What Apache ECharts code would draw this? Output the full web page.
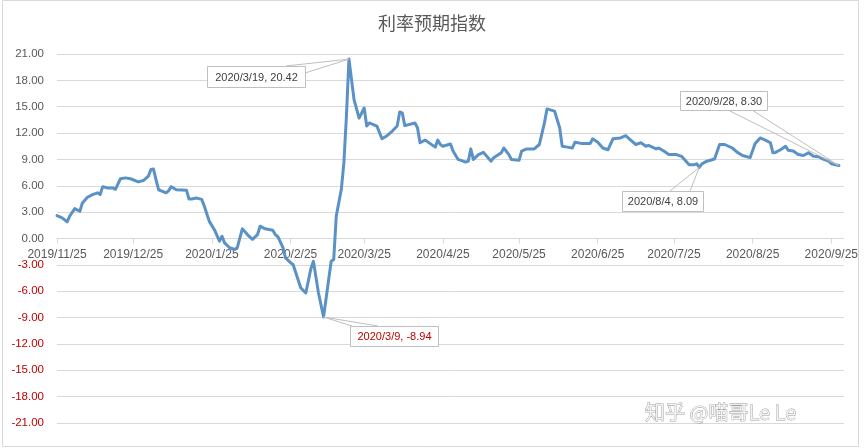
<!DOCTYPE html>
<html><head><meta charset="utf-8">
<script src="https://cdn.jsdelivr.net/npm/echarts@6/dist/echarts.min.js"></script>
<style>html,body{margin:0;padding:0;background:#fff}#c{width:864px;height:448px}</style>
</head><body><div id="c"></div>
<script>
// ---- data ----
const titleText = '利率预期指数';
const axisStart = [2019, 11, 25];
const axisEnd = [2020, 9, 30];
const labelDayOfMonth = 25;
const yMin = -21, yMax = 21, yStep = 3;

const dates = [
'2019/11/25','2019/11/27','2019/11/29','2019/11/30','2019/12/2','2019/12/4','2019/12/5','2019/12/7','2019/12/9','2019/12/11',
'2019/12/12','2019/12/13','2019/12/15','2019/12/17','2019/12/18','2019/12/20','2019/12/22','2019/12/24','2019/12/27','2019/12/29',
'2019/12/31','2020/1/1','2020/1/2','2020/1/3','2020/1/4','2020/1/7','2020/1/8','2020/1/9','2020/1/11','2020/1/15',
'2020/1/16','2020/1/17','2020/1/19','2020/1/21','2020/1/22','2020/1/24','2020/1/26','2020/1/28','2020/1/29','2020/1/30',
'2020/2/1','2020/2/3','2020/2/4','2020/2/6','2020/2/8','2020/2/10','2020/2/12','2020/2/13','2020/2/15','2020/2/18',
'2020/2/19','2020/2/20','2020/2/22','2020/2/23','2020/2/25','2020/2/26','2020/2/29','2020/3/2','2020/3/4','2020/3/5',
'2020/3/7','2020/3/9','2020/3/11','2020/3/12','2020/3/13','2020/3/14','2020/3/16','2020/3/17','2020/3/18','2020/3/19',
'2020/3/21','2020/3/23','2020/3/25','2020/3/26','2020/3/27','2020/3/30','2020/4/1','2020/4/3','2020/4/5','2020/4/7',
'2020/4/8','2020/4/9','2020/4/10','2020/4/14','2020/4/15','2020/4/16','2020/4/18','2020/4/20','2020/4/22','2020/4/23',
'2020/4/24','2020/4/25','2020/4/28','2020/4/29','2020/5/1','2020/5/4','2020/5/5','2020/5/6','2020/5/7','2020/5/9',
'2020/5/11','2020/5/14','2020/5/15','2020/5/18','2020/5/19','2020/5/21','2020/5/22','2020/5/25','2020/5/26','2020/5/28',
'2020/5/31','2020/6/2','2020/6/4','2020/6/5','2020/6/8','2020/6/9','2020/6/10','2020/6/11','2020/6/13','2020/6/15',
'2020/6/16','2020/6/19','2020/6/22','2020/6/23','2020/6/25','2020/6/27','2020/6/29','2020/7/1','2020/7/4','2020/7/6',
'2020/7/8','2020/7/10','2020/7/12','2020/7/14','2020/7/15','2020/7/18','2020/7/19','2020/7/21','2020/7/23','2020/7/26',
'2020/7/28','2020/7/31','2020/8/2','2020/8/3','2020/8/4','2020/8/5','2020/8/7','2020/8/10','2020/8/12','2020/8/14',
'2020/8/17','2020/8/19','2020/8/21','2020/8/24','2020/8/26','2020/8/28','2020/8/30','2020/9/1','2020/9/2','2020/9/3',
'2020/9/5','2020/9/7','2020/9/8','2020/9/10','2020/9/12','2020/9/14','2020/9/16','2020/9/18','2020/9/20','2020/9/22',
'2020/9/24','2020/9/25','2020/9/28'
];
const values = [
2.6,2.35,1.9,2.55,3.4,3.1,4.05,4.7,5.0,5.2,
5.0,5.9,5.75,5.75,5.6,6.8,6.9,6.8,6.45,6.6,
7.1,7.85,7.9,6.7,5.55,5.2,5.45,5.9,5.55,5.5,
4.5,4.5,4.6,4.45,3.7,1.95,1.0,-0.3,0.25,-0.5,
-1.05,-1.25,-1.05,1.1,0.45,-0.1,0.45,1.4,1.1,0.95,
0.45,0.2,-1.05,-2.2,-2.75,-2.95,-5.6,-6.2,-3.45,-2.6,
-6.2,-8.94,-4.7,-2.6,-2.4,2.55,5.6,8.6,13.9,20.42,
15.8,13.7,14.85,12.8,13.15,12.8,11.35,11.7,12.2,12.8,
14.4,14.3,12.85,13.15,12.6,10.9,11.2,10.8,10.4,11.2,
10.7,10.5,10.75,9.95,9.0,8.7,8.8,10.2,9.0,9.55,
9.8,8.8,9.2,9.75,10.3,9.55,9.0,8.9,9.95,10.2,
10.2,10.7,13.15,14.75,14.5,13.55,12.6,10.5,10.4,10.3,
10.95,10.8,10.8,11.35,10.95,10.3,10.1,11.35,11.45,11.7,
11.2,10.7,10.9,10.5,10.6,10.2,10.3,9.95,9.55,9.55,
9.35,8.4,8.4,8.5,8.09,8.5,8.8,9.05,10.7,10.7,
10.3,9.8,9.45,9.2,10.8,11.45,11.2,10.9,9.75,9.8,
10.1,10.5,10.05,9.95,9.55,9.45,9.75,9.35,9.3,9.0,
8.8,8.5,8.3
];
const calloutDates = ['2020/3/19', '2020/3/9', '2020/9/28', '2020/8/4'];
const watermark = '知乎 @喵哥Le Le';

// ---- build the calendar-day category axis ----
function fmt(d){ return d.getUTCFullYear() + '/' + (d.getUTCMonth()+1) + '/' + d.getUTCDate(); }
const categories = [];
for (let t = Date.UTC(axisStart[0], axisStart[1]-1, axisStart[2]); t <= Date.UTC(axisEnd[0], axisEnd[1]-1, axisEnd[2]); t += 86400000) {
  categories.push(fmt(new Date(t)));
}
const isLabelDay = (i) => Number(categories[i].split('/')[2]) === labelDayOfMonth;

const RED = '#c00000', GRAY = '#595959', GRID = '#d9d9d9';
const NUMFONT = 'Liberation Sans';
const GRID_BOTTOM = 25;

const chart = echarts.init(document.getElementById('c'), null, {renderer: 'canvas'});
chart.setOption({
  animation: false,
  backgroundColor: '#fff',
  title: {
    text: titleText, left: 'center', top: 9,
    textStyle: {fontFamily: 'Noto Sans CJK SC', fontSize: 18, fontWeight: 'normal', color: GRAY}
  },
  grid: {left: 57, right: 20, top: 54, bottom: GRID_BOTTOM},
  xAxis: {
    type: 'category', data: categories, boundaryGap: false,
    axisLine: {onZero: false, lineStyle: {color: GRID, width: 1}},
    axisTick: {show: true, interval: (i) => isLabelDay(i), length: 5, lineStyle: {color: GRID}},
    axisLabel: {interval: (i) => isLabelDay(i), margin: 10, color: GRAY, fontFamily: NUMFONT, fontSize: 12},
    splitLine: {show: false}
  },
  yAxis: {
    type: 'value', min: yMin, max: yMax, interval: yStep,
    axisLine: {show: false}, axisTick: {show: false},
    axisLabel: {
      margin: 13, fontFamily: NUMFONT, fontSize: 11.5,
      formatter: (v) => v.toFixed(2),
      color: (v) => (Number(v) < 0 ? RED : GRAY)
    },
    splitLine: {lineStyle: {color: GRID, width: 1}}
  },
  series: [{
    type: 'line',
    data: dates.map((d, i) => [d, values[i]]),
    showSymbol: false, symbol: 'none',
    lineStyle: {color: '#5a92c6', width: 3, join: 'round', cap: 'round'},
    z: 5
  }]
});

// move the category axis up to the zero line of the value axis
const zeroY = chart.convertToPixel({yAxisIndex: 0}, 0);
const bottomY = chart.getHeight() - GRID_BOTTOM;
chart.setOption({xAxis: {offset: zeroY - bottomY}});

// ---- callouts and decorations ----
const boxes = {
  '2020/3/19': {x: 207, y: 66, w: 98, h: 21, a: [286, 66], b: [305, 73], color: '#404040'},
  '2020/3/9':  {x: 350, y: 326, w: 88, h: 20, a: [352, 326], b: [378, 326], color: RED},
  '2020/9/28': {x: 680, y: 91, w: 87, h: 19, a: [728, 110], b: [752, 110], color: '#404040'},
  '2020/8/4':  {x: 622, y: 191, w: 81, h: 20, a: [670, 191], b: [690, 191], color: '#404040'}
};
const elements = [];
elements.push({type: 'rect', shape: {x: 2.5, y: 0.5, width: 856, height: 446}, style: {fill: 'none', stroke: '#d9d9d9', lineWidth: 1}, z: 0, silent: true});
calloutDates.forEach((d) => {
  const v = values[dates.indexOf(d)];
  const p = chart.convertToPixel({xAxisIndex: 0, yAxisIndex: 0}, [categories.indexOf(d), v]);
  const b = boxes[d];
  elements.push({type: 'polyline', shape: {points: [b.a, p, b.b]}, style: {fill: 'none', stroke: '#bfbfbf', lineWidth: 1}, z: 100});
  elements.push({type: 'rect', shape: {x: b.x + 0.5, y: b.y + 0.5, width: b.w, height: b.h}, style: {fill: '#fff', stroke: '#bfbfbf', lineWidth: 1}, z: 101});
  elements.push({type: 'text', x: b.x + b.w / 2 + 0.5, y: b.y + b.h / 2 + 1, style: {text: d + ', ' + v.toFixed(2), fill: b.color, font: '11px "Liberation Sans"', align: 'center', verticalAlign: 'middle'}, z: 102});
});
elements.push({type: 'text', x: 645, y: 412, style: {text: watermark, fill: '#f2f2f2', stroke: '#9c9c9c', lineWidth: 0.8, font: '20px "Noto Sans CJK SC"', align: 'left', verticalAlign: 'middle'}, z: 110});
chart.setOption({graphic: {elements: elements}});
</script></body></html>
